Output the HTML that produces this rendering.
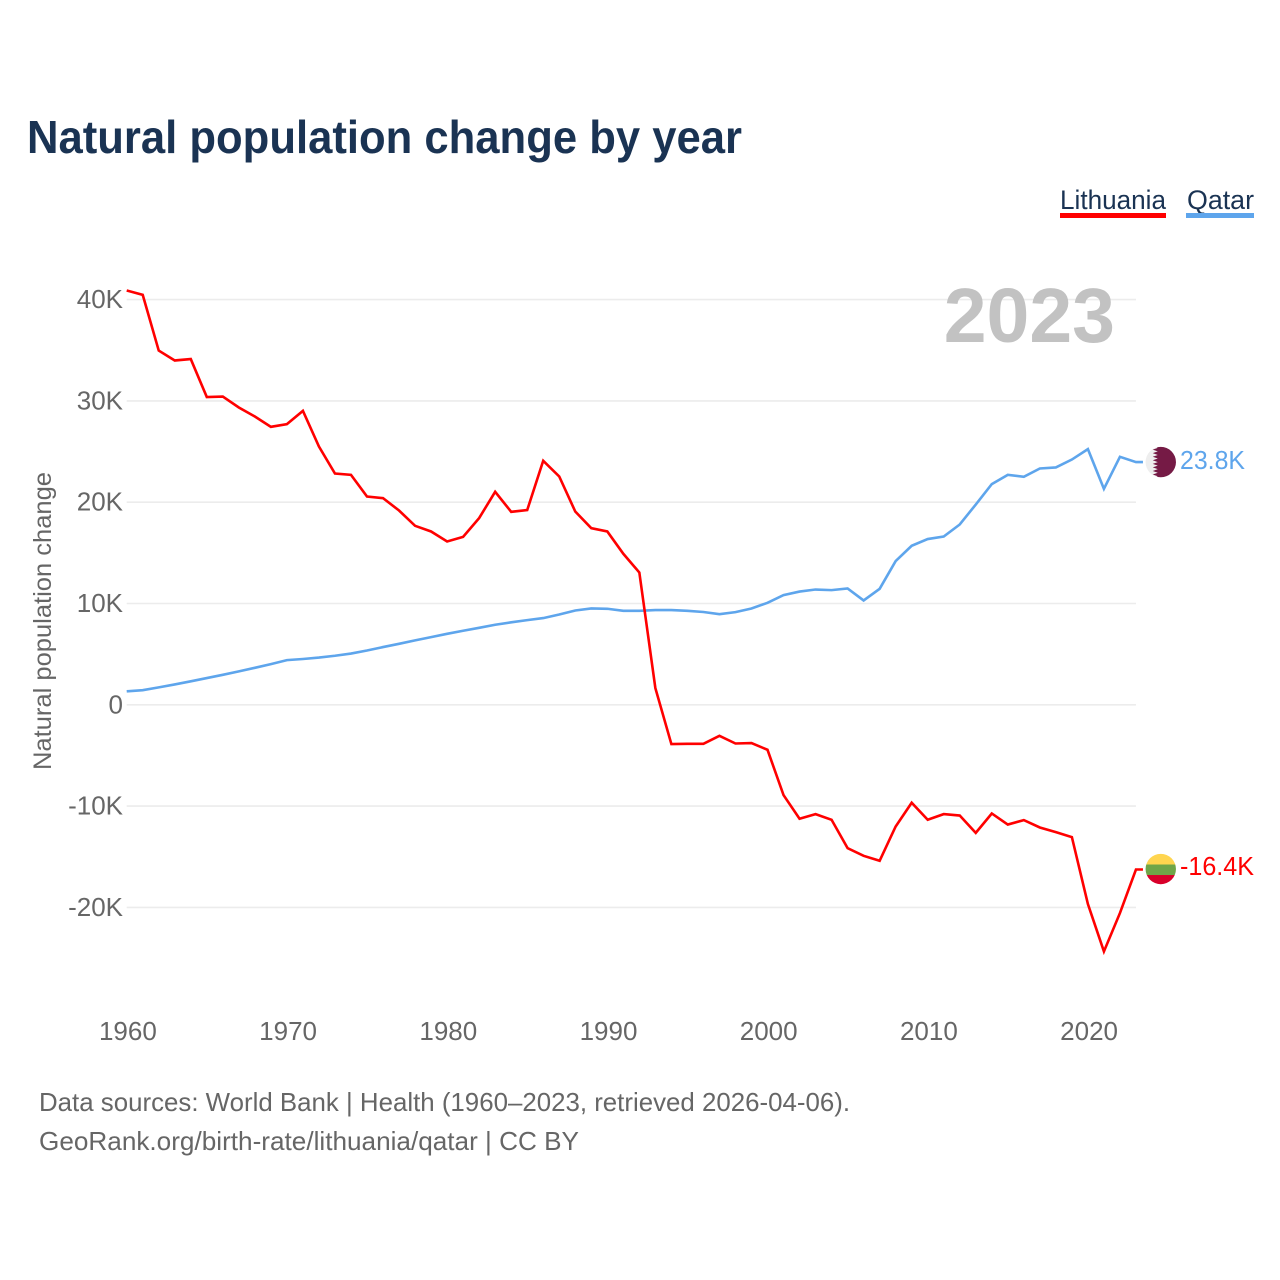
<!DOCTYPE html>
<html lang="en">
<head>
<meta charset="utf-8">
<title>Natural population change by year</title>
<style>
  html, body { margin: 0; padding: 0; background: #fff; }
  svg { display: block; font-family: "Liberation Sans", sans-serif; }
</style>
</head>
<body>
<svg id="chart" xmlns="http://www.w3.org/2000/svg" width="1280" height="1280" viewBox="0 0 1280 1280">
  <defs>
    <clipPath id="flag-clip"><circle cx="0" cy="0" r="15.2"></circle></clipPath>
  </defs>
  <rect x="0" y="0" width="1280" height="1280" fill="#ffffff"></rect>
  <text x="27" y="153" font-size="46" font-weight="700" fill="#1a3353" textLength="715" lengthAdjust="spacingAndGlyphs">Natural population change by year</text>

  <g>
    <text x="1060" y="209" font-size="27" fill="#1a3353" textLength="106" lengthAdjust="spacingAndGlyphs">Lithuania</text>
    <rect x="1060" y="213" width="106" height="5" fill="#ff0000"></rect>
  </g>
  <g>
    <text x="1187" y="209" font-size="27" fill="#1a3353" textLength="67" lengthAdjust="spacingAndGlyphs">Qatar</text>
    <rect x="1186" y="213" width="68" height="5" fill="#5ea5ec"></rect>
  </g>

  <g id="grid"></g>
  <text x="1115" y="342" text-anchor="end" font-size="77" font-weight="700" fill="#c2c2c2">2023</text>
  <g id="y-ticks"></g>
  <g id="x-ticks"></g>
  <text transform="translate(51,621) rotate(-90)" text-anchor="middle" font-size="25" fill="#666666" textLength="298" lengthAdjust="spacingAndGlyphs">Natural population change</text>

  <g id="series"></g>

  <g id="flag-qatar">
    <g clip-path="url(#flag-clip)">
      <rect x="-16" y="-16" width="32" height="32" fill="#eeeeee"></rect>
      <polygon fill="#751a45" points="16,-16 16,16 -8,16 -3,14.2 -8,12.4 -3,10.7 -8,8.9 -3,7.1 -8,5.3 -3,3.6 -8,1.8 -3,0 -8,-1.8 -3,-3.6 -8,-5.3 -3,-7.1 -8,-8.9 -3,-10.7 -8,-12.4 -3,-14.2 -8,-16"></polygon>
    </g>
  </g>
  <g id="flag-lithuania">
    <g clip-path="url(#flag-clip)">
      <rect x="-16" y="-16" width="32" height="12" fill="#ffd54f"></rect>
      <rect x="-16" y="-4.5" width="32" height="10.5" fill="#6fa548"></rect>
      <rect x="-16" y="6" width="32" height="10" fill="#d8002a"></rect>
    </g>
  </g>
  <text id="label-qatar" x="1180" font-size="26" fill="#5ea5ec" textLength="65" lengthAdjust="spacingAndGlyphs"></text>
  <text id="label-lithuania" x="1180" font-size="26" fill="#ff0000" textLength="74" lengthAdjust="spacingAndGlyphs"></text>

  <text x="39" y="1111" font-size="26" fill="#666666" textLength="811" lengthAdjust="spacingAndGlyphs">Data sources: World Bank | Health (1960–2023, retrieved 2026-04-06).</text>
  <text x="39" y="1150" font-size="26" fill="#666666" textLength="540" lengthAdjust="spacingAndGlyphs">GeoRank.org/birth-rate/lithuania/qatar | CC BY</text>

<script>
const startYear = 1960;
const lithuaniaValues = [
  40.90,40.47,34.97,33.99,34.13,30.38,30.43,29.35,28.46,27.44,
  27.71,29.02,25.50,22.83,22.70,20.56,20.40,19.18,17.67,17.11,
  16.12,16.58,18.43,21.03,19.05,19.22,24.09,22.54,19.08,17.44,
  17.11,14.91,13.06,1.65,-3.88,-3.85,-3.85,-3.06,-3.82,-3.78,
  -4.44,-8.91,-11.25,-10.79,-11.35,-14.15,-14.91,-15.40,-12.01,-9.67,
  -11.35,-10.79,-10.93,-12.64,-10.73,-11.82,-11.38,-12.11,-12.57,-13.06,
  -19.67,-24.35,-20.56,-16.26
];
const qatarValues = [
  1.33,1.44,1.72,2.01,2.32,2.64,2.96,3.30,3.65,4.02,
  4.41,4.52,4.66,4.84,5.06,5.36,5.70,6.02,6.36,6.68,
  7.01,7.31,7.60,7.90,8.14,8.36,8.56,8.91,9.31,9.51,
  9.48,9.28,9.28,9.35,9.35,9.28,9.16,8.95,9.15,9.51,
  10.07,10.83,11.18,11.38,11.32,11.48,10.30,11.45,14.19,15.70,
  16.36,16.61,17.80,19.77,21.79,22.70,22.51,23.33,23.43,24.21,
  25.24,21.32,24.48,23.96
];
const yTickValues = [40, 30, 20, 10, 0, -10, -20];
const yTickLabels = ["40K", "30K", "20K", "10K", "0", "-10K", "-20K"];
const xTickValues = [1960, 1970, 1980, 1990, 2000, 2010, 2020];
const latestLabels = ["-16.4K", "23.8K"];

const SVG_NS = "http://www.w3.org/2000/svg";
const xScale = function (year) { return 126.7 + (year - 1960) * 16.02; };
const yScale = function (value) { return 704.8 - value * 10.13; };

function make(tag, parent) {
  const el = document.createElementNS(SVG_NS, tag);
  parent.appendChild(el);
  return el;
}

const gridGroup = document.getElementById("grid");
const yTickGroup = document.getElementById("y-ticks");
yTickValues.forEach(function (value, i) {
  const line = make("line", gridGroup);
  
  
  line.setAttribute("x1", xScale(1960));
  line.setAttribute("x2", xScale(2023));
  line.setAttribute("y1", yScale(value));
  line.setAttribute("y2", yScale(value));
  line.setAttribute("stroke", "#ececec");
  line.setAttribute("stroke-width", "1.6");

  const label = make("text", yTickGroup);
  
  
  label.setAttribute("x", 123);
  label.setAttribute("y", yScale(value) + 8.5);
  label.setAttribute("text-anchor", "end");
  label.setAttribute("font-size", "26");
  label.setAttribute("fill", "#666666");
  label.textContent = yTickLabels[i];
});

const xTickGroup = document.getElementById("x-ticks");
xTickValues.forEach(function (year) {
  const label = make("text", xTickGroup);
  
  
  label.setAttribute("x", xScale(year) + 1.2);
  label.setAttribute("y", 1040);
  label.setAttribute("text-anchor", "middle");
  label.setAttribute("font-size", "26");
  label.setAttribute("fill", "#666666");
  label.textContent = year;
});

function buildPoints(values) {
  const pts = values.map(function (v, i) {
    return xScale(startYear + i).toFixed(2) + "," + yScale(v).toFixed(2);
  });
  const lastY = yScale(values[values.length - 1]).toFixed(2);
  pts.push((xScale(startYear + values.length - 1) + 7).toFixed(2) + "," + lastY);
  return pts.join(" ");
}

const seriesGroup = document.getElementById("series");
const qatarLine = make("polyline", seriesGroup);


qatarLine.setAttribute("points", buildPoints(qatarValues));
qatarLine.setAttribute("fill", "none");
qatarLine.setAttribute("stroke", "#5ea5ec");
qatarLine.setAttribute("stroke-width", "2.6");

const lithuaniaLine = make("polyline", seriesGroup);


lithuaniaLine.setAttribute("points", buildPoints(lithuaniaValues));
lithuaniaLine.setAttribute("fill", "none");
lithuaniaLine.setAttribute("stroke", "#ff0000");
lithuaniaLine.setAttribute("stroke-width", "2.6");

const endX = xScale(2023) + 24.8;
const qatarY = yScale(qatarValues[qatarValues.length - 1]);
const lithuaniaY = yScale(lithuaniaValues[lithuaniaValues.length - 1]);
document.getElementById("flag-qatar").setAttribute("transform", "translate(" + endX + "," + qatarY + ")");
document.getElementById("flag-lithuania").setAttribute("transform", "translate(" + endX + "," + (lithuaniaY - 0.5) + ")");
const labelQatar = document.getElementById("label-qatar");
labelQatar.setAttribute("y", qatarY + 7);
labelQatar.textContent = latestLabels[1];
const labelLithuania = document.getElementById("label-lithuania");
labelLithuania.setAttribute("y", lithuaniaY + 5.5);
labelLithuania.textContent = latestLabels[0];
</script>
</svg>
</body>
</html>
